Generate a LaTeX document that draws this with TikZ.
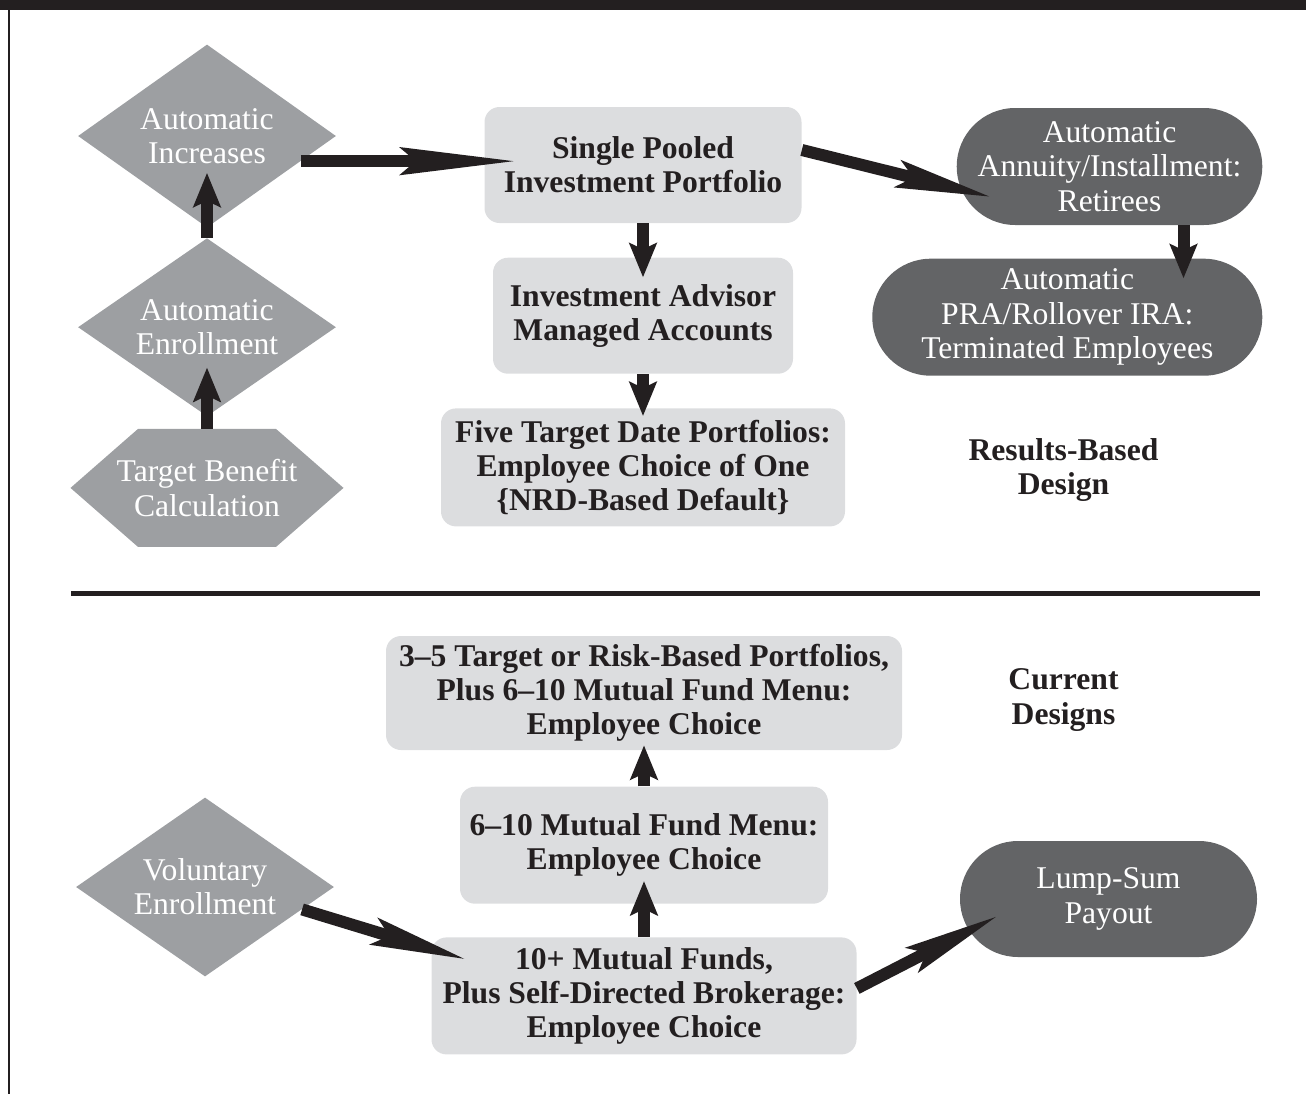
\documentclass[tikz,border=0pt]{standalone}
\usepackage{fontspec}
\setmainfont{Liberation Serif}
\usetikzlibrary{positioning,arrows.meta,shapes.geometric,shapes.misc}
\definecolor{ink}{HTML}{231F20}
\definecolor{paleBox}{HTML}{DCDDDF}
\definecolor{midGray}{HTML}{9D9FA2}
\definecolor{darkPill}{HTML}{636466}

\begin{document}
\begin{tikzpicture}[
    node distance=6mm,
    every node/.style={font=\fontsize{18}{19.5}\selectfont},
    box/.style={
        fill=paleBox,
        rounded corners=0.3cm,
        align=center,
        inner sep=0pt,
        text=ink,
        font=\fontsize{18}{19.5}\selectfont\bfseries
    },
    gem/.style={
        diamond,
        aspect=1.45,
        fill=midGray,
        text=white,
        align=center,
        inner sep=0pt,
        minimum width=5.16cm,
        minimum height=3.6cm
    },
    hexa/.style={
        rectangle,
        text=white,
        align=center,
        inner sep=0pt,
        minimum width=5.46cm,
        minimum height=2.36cm,
        path picture={
            \fill[midGray] (path picture bounding box.west)
                -- ([xshift=1.35cm]path picture bounding box.north west)
                -- ([xshift=-1.35cm]path picture bounding box.north east)
                -- (path picture bounding box.east)
                -- ([xshift=-1.35cm]path picture bounding box.south east)
                -- ([xshift=1.35cm]path picture bounding box.south west) -- cycle;
        }
    },
    pill/.style={
        rounded rectangle,
        fill=darkPill,
        text=white,
        align=center,
        inner sep=0pt,
        minimum height=2.34cm
    },
    tag/.style={align=center, text=ink, font=\fontsize{18}{19.5}\selectfont\bfseries},
    flow/.style={draw=ink, line width=0.24cm, -{Stealth[length=0.68cm, width=0.54cm, inset=0.12cm]}},
    longflow/.style={draw=ink, line width=0.24cm, -{Stealth[length=#1, width=0.54cm, inset=0.3cm]}},
    longflow/.default=1.9cm
]

\useasboundingbox (0,0) rectangle (26.12,-21.88);
\fill[ink] (0,0) rectangle (26.12,-0.19);
\draw[ink, line width=1.1pt] (0.18,-0.19) -- (0.18,-21.88);
\draw[ink, line width=2.85pt] (1.42,-11.87) -- (25.2,-11.87);

\node[box, minimum width=6.34cm, minimum height=2.32cm] (pooled) at (12.86,-3.3) {Single Pooled\\Investment Portfolio};
\node[box, minimum width=6.0cm, minimum height=2.32cm, below=0.68cm of pooled] (advisor) {Investment Advisor\\Managed Accounts};
\node[box, minimum width=8.08cm, minimum height=2.36cm, below=0.68cm of advisor] (datefolio) {Five Target Date Portfolios:\\Employee Choice of One\\\{NRD-Based Default\}};

\node[gem, minimum height=3.66cm] (incr) at (4.14,-2.72) {Automatic\\Increases};
\node[gem, minimum height=3.56cm, below=0.2cm of incr] (enroll) {Automatic\\Enrollment};
\node[hexa, below=0.24cm of enroll] (tbc) {Target Benefit\\Calculation};

\node[pill, minimum width=5.9cm] (retirees) at (22.19,-3.33) {Automatic\\Annuity/Installment:\\Retirees};
\node[pill, minimum width=7.8cm, below left=0.66cm and 0cm of retirees.south east] (termin) {Automatic\\PRA/Rollover IRA:\\Terminated Employees};
\node[tag] (results) at (21.27,-9.4) {Results-Based\\Design};

\node[box, minimum width=10.32cm, minimum height=2.28cm] (riskbased) at (12.88,-13.86) {3–5 Target or Risk-Based Portfolios,\\Plus 6–10 Mutual Fund Menu:\\Employee Choice};
\node[box, minimum width=7.36cm, minimum height=2.34cm, below=0.72cm of riskbased] (menu) {6–10 Mutual Fund Menu:\\Employee Choice};
\node[box, minimum width=8.5cm, minimum height=2.34cm, below=0.66cm of menu] (funds) {10+ Mutual Funds,\\Plus Self-Directed Brokerage:\\Employee Choice};
\node[gem, minimum height=3.58cm] (voluntary) at (4.1,-17.74) {Voluntary\\Enrollment};
\node[pill, minimum width=5.94cm, minimum height=2.32cm] (lumpsum) at (22.17,-17.98) {Lump-Sum\\Payout};
\node[tag] (current) at (21.27,-14.0) {Current\\Designs};

\draw[flow] (tbc.north) -- ([yshift=0.98cm]enroll.south);
\draw[flow] (enroll.north) -- ([yshift=1.1cm]incr.south);
\draw[longflow=2.3cm] (incr.-15) -- ([xshift=0.64cm]incr.-15 -| pooled.west);
\draw[longflow] ([yshift=0.3cm]pooled.east) -- ([xshift=0.7cm,yshift=-0.61cm]retirees.west);
\coordinate (drop) at ([xshift=1.48cm]retirees.south);
\draw[flow] (drop) -- ([yshift=-0.4cm]drop |- termin.north);
\draw[flow] (pooled.south) -- ([yshift=-0.4cm]advisor.north);
\draw[flow] (advisor.south) -- ([yshift=-0.16cm]datefolio.north);

\draw[flow] (menu.north) -- ([yshift=0.1cm]riskbased.south);
\draw[flow] (funds.north) -- ([yshift=0.46cm]menu.south);
\draw[longflow] (voluntary.-13) -- ([xshift=0.7cm,yshift=0.73cm]funds.west);
\draw[longflow] ([yshift=0.15cm]funds.east) -- ([xshift=0.76cm,yshift=-0.34cm]lumpsum.west);

\end{tikzpicture}
\end{document}
